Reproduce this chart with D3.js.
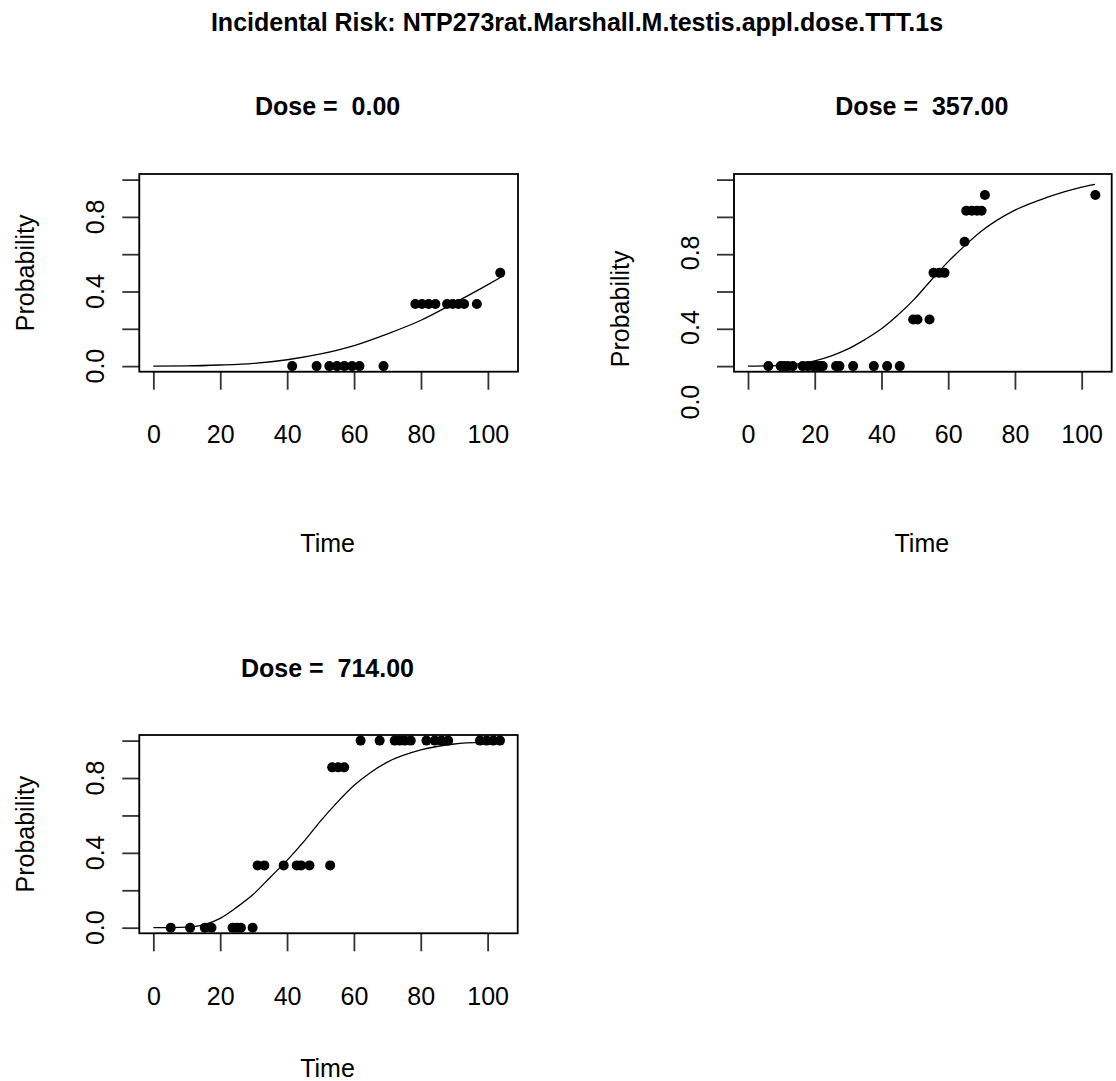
<!DOCTYPE html>
<html>
<head>
<meta charset="utf-8">
<script src="https://cdn.jsdelivr.net/npm/d3@7"></script>
<style>
  body { margin: 0; background: #fff; }
  svg text { font-family: "Liberation Sans", Arial, sans-serif; fill: #000; }
</style>
</head>
<body>
<svg id="canvas" width="1116" height="1081"></svg>
<script>
// observed points (time, probability) for each dose group
let dose0Time = [41.5, 48.8, 52.6, 54.9, 57.1, 59.4, 61.6, 68.8, 78.3, 80.3, 82.3, 84.3, 87.8, 89.5, 91.2, 92.9, 96.7, 103.7]
let dose0Prob = [0, 0, 0, 0, 0, 0, 0, 0, 0.333, 0.333, 0.333, 0.333, 0.333, 0.333, 0.333, 0.333, 0.333, 0.5]

let dose357Time = [6.1, 9.8, 10.9, 11.9, 13.4, 16.4, 17.9, 19.4, 20.4, 21.4, 22.4, 26.4, 27.4, 31.5, 37.7, 41.7, 45.5,
                   49.5, 50.8, 54.4, 55.6, 57.3, 58.9, 64.9, 65.4, 67.1, 68.6, 70.0, 71.0, 104.1]
let dose357Prob = [0, 0, 0, 0, 0, 0, 0, 0, 0, 0, 0, 0, 0, 0, 0, 0, 0,
                   0.25, 0.25, 0.25, 0.5, 0.5, 0.5, 0.667, 0.833, 0.833, 0.833, 0.833, 0.917, 0.917]

let dose714Time = [5.2, 11.0, 15.4, 17.4, 23.7, 25.0, 26.2, 29.7,
                   31.2, 33.2, 39.0, 42.9, 44.2, 46.7, 52.9,
                   53.5, 55.3, 57.1,
                   62.0, 67.7, 72.2, 73.7, 75.2, 77.0, 81.7, 84.2, 86.2, 88.2, 97.7, 99.7, 101.7, 103.7]
let dose714Prob = [0, 0, 0, 0, 0, 0, 0, 0,
                   0.333, 0.333, 0.333, 0.333, 0.333, 0.333, 0.333,
                   0.857, 0.857, 0.857,
                   1, 1, 1, 1, 1, 1, 1, 1, 1, 1, 1, 1, 1, 1]

// fitted curves
let dose0CurveTime = [0, 10, 20, 30, 40, 50, 60, 70, 80, 90, 100, 104]
let dose0CurveProb = [0, 0.001, 0.006, 0.015, 0.034, 0.065, 0.11, 0.173, 0.246, 0.339, 0.437, 0.478]

let dose357CurveTime = [0, 10, 20, 25, 30, 35, 40, 45, 50, 55, 60, 65, 70, 80, 90, 100, 104]
let dose357CurveProb = [0, 0.004, 0.028, 0.055, 0.092, 0.142, 0.2, 0.275, 0.362, 0.463, 0.56, 0.646, 0.724, 0.836, 0.907, 0.96, 0.975]

let dose714CurveTime = [0, 10, 15, 20, 25, 30, 35, 40, 45, 50, 55, 60, 65, 70, 80, 90, 100, 104]
let dose714CurveProb = [0, 0.003, 0.015, 0.05, 0.11, 0.18, 0.27, 0.36, 0.46, 0.57, 0.67, 0.76, 0.83, 0.885, 0.95, 0.982, 0.993, 0.995]

let doseLabels = ['0.00', '357.00', '714.00']
let xTicks = [0, 20, 40, 60, 80, 100]
let yTicks = [0, 0.2, 0.4, 0.6, 0.8, 1.0]
let yTickLabels = [0, 0.4, 0.8]

let mainTitle = 'Incidental Risk: NTP273rat.Marshall.M.testis.appl.dose.TTT.1s'

let canvas = d3.select('#canvas')

canvas.append('text')
      .attr('x', 577)
      .attr('y', 31)
      .attr('text-anchor', 'middle')
      .style('font-size', '25px')
      .style('font-weight', 'bold')
      .text(mainTitle)

// panel boxes: left, top, width, height, and a few per-panel text offsets
let panels = [
  { left: 139.3, top: 174, width: 378.7, height: 197.7, times: dose0Time, probs: dose0Prob,
    curveT: dose0CurveTime, curveP: dose0CurveProb, label: doseLabels[0], titleY: 115, timeY: 552, yShift: 0 },
  { left: 734, top: 174, width: 377.7, height: 197.7, times: dose357Time, probs: dose357Prob,
    curveT: dose357CurveTime, curveP: dose357CurveProb, label: doseLabels[1], titleY: 115, timeY: 552, yShift: 36 },
  { left: 139.3, top: 735, width: 378.4, height: 198.3, times: dose714Time, probs: dose714Prob,
    curveT: dose714CurveTime, curveP: dose714CurveProb, label: doseLabels[2], titleY: 677, timeY: 1077, yShift: 0 }
]

let drawPanel = (panel) => {
  let xScale = d3.scaleLinear()
                 .domain([-4.2, 109])
                 .range([panel.left, panel.left + panel.width])
  let yScale = d3.scaleLinear()
                 .domain([-0.03, 1.03])
                 .range([panel.top + panel.height, panel.top])

  let bottom = panel.top + panel.height
  let g = canvas.append('g')

  g.append('text')
   .attr('x', panel.left + panel.width / 2 - 1)
   .attr('y', panel.titleY)
   .attr('text-anchor', 'middle')
   .style('font-size', '25px')
   .style('font-weight', 'bold')
   .attr('xml:space', 'preserve')
   .text('Dose =  ' + panel.label)

  // x axis
  let xAxis = d3.axisBottom(xScale)
                .tickValues(xTicks)
                .tickSize(18)
                .tickPadding(36)
                .tickFormat(d3.format('d'))
  let xg = g.append('g')
            .attr('transform', 'translate(0,' + bottom + ')')
            .call(xAxis)
  xg.select('.domain')
    .attr('d', 'M' + xScale(0) + ',0H' + xScale(100))
  xg.selectAll('line').attr('stroke-width', 1.8).attr('stroke', '#333')
  xg.selectAll('text')
    .attr('fill', '#000')
    .style('font-size', '25px')
    .style('font-family', '"Liberation Sans", Arial, sans-serif')

  // y axis: all ticks, fewer labels
  let yAxis = d3.axisLeft(yScale)
                .tickValues(yTicks)
                .tickSize(17)
                .tickFormat('')
  let yg = g.append('g')
            .attr('transform', 'translate(' + panel.left + ',0)')
            .call(yAxis)
  yg.select('.domain')
    .attr('d', 'M0,' + yScale(0) + 'V' + yScale(1))
  yg.selectAll('line').attr('stroke-width', 1.8).attr('stroke', '#333')

  g.selectAll('.ylab')
   .data(yTickLabels)
   .enter()
   .append('text')
   .attr('class', 'ylab')
   .attr('transform', (v) => {
     return 'translate(' + (panel.left - 35) + ',' + (yScale(v) + panel.yShift) + ') rotate(-90)'
   })
   .attr('text-anchor', 'middle')
   .style('font-size', '25px')
   .text((v) => d3.format('.1f')(v))

  g.append('text')
   .attr('transform', 'translate(' + (panel.left - 105) + ',' + (panel.top + panel.height / 2 + panel.yShift) + ') rotate(-90)')
   .attr('text-anchor', 'middle')
   .style('font-size', '25px')
   .text('Probability')

  g.append('text')
   .attr('x', panel.left + panel.width / 2 - 1)
   .attr('y', panel.timeY)
   .attr('text-anchor', 'middle')
   .style('font-size', '25px')
   .text('Time')

  // plot box
  g.append('rect')
   .attr('x', panel.left)
   .attr('y', panel.top)
   .attr('width', panel.width)
   .attr('height', panel.height)
   .attr('fill', 'none')
   .attr('stroke', '#000')
   .attr('stroke-width', 1.8)

  // fitted curve
  let line = d3.line()
               .x((d, i) => xScale(panel.curveT[i]))
               .y((d) => yScale(d))
               .curve(d3.curveMonotoneX)
  g.append('path')
   .attr('d', line(panel.curveP))
   .attr('fill', 'none')
   .attr('stroke', '#000')
   .attr('stroke-width', 1.3)

  // observed points
  g.selectAll('circle')
   .data(panel.probs)
   .enter()
   .append('circle')
   .attr('cx', (d, i) => xScale(panel.times[i]))
   .attr('cy', (d) => yScale(d))
   .attr('r', 5)
   .attr('fill', '#000')
}

panels.forEach(drawPanel)
</script>
</body>
</html>
